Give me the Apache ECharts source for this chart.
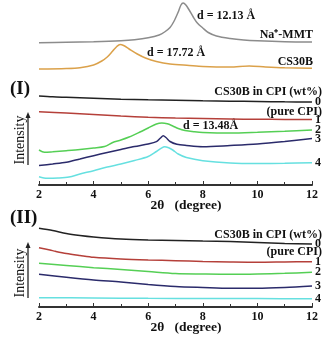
<!DOCTYPE html>
<html><head><meta charset="utf-8">
<script src="https://cdn.jsdelivr.net/npm/echarts@6/dist/echarts.min.js"></script>
<style>html,body{margin:0;padding:0;background:#fff}#c{width:328px;height:338px}</style>
</head><body><div id="c"></div>
<script>
// ---- data (2θ in degrees, intensity in arbitrary units) ----
var xTicks = [2, 4, 6, 8, 10, 12];
// top references
var mmtX = [2.0,3,4,5,5.5,6,6.4,6.6,6.8,6.95,7.1,7.2,7.28,7.38,7.5,7.65,7.8,8.0,8.2,8.5,9,9.5,10,11,12];
var mmtY = [142.3,142.7,143.3,144.3,145.3,147.2,150,153,157.5,164,173,180,182,180,175,168,162,157,152.5,149,146.5,145,144.2,143.3,143];
var cs30bX = [2.0,3,3.5,4.0,4.3,4.5,4.7,4.85,4.97,5.1,5.3,5.6,5.9,6.3,6.8,7.5,8.0,9,9.7,10.3,11,12];
var cs30bY = [116,116.5,117.3,120,124,128,134,138.5,140.5,139.5,136,131,127,123.5,121,119.5,118.5,118,119,118,117.2,116.7];
// panel (I)
var i0X = [2,2.5,3,4,5,6,7,8,9,10,11,12];
var i0Y = [89,88.2,87.7,86.7,85.8,85.2,84.7,84.2,83.8,83.5,83.2,83];
var i1X = [2,3,4,5,6,7,8,9,10,11,12];
var i1Y = [73.3,72,70.5,69,67.8,67,66.5,66,65.7,65.6,65.5];
var i2X = [2.0,2.2,2.5,3,3.5,4,4.4,4.7,5,5.3,5.7,6.0,6.3,6.5,6.7,6.9,7.1,7.35,7.7,8,9,10,11,12];
var i2Y = [35,32.7,33.2,34.3,35.5,37,38.5,42.5,45,48,53,57,61,62,61.2,59,56.5,54.5,53.2,52.5,52,52.7,53.7,55];
var i3X = [2.0,2.5,3,3.5,4,4.5,5,5.5,6,6.3,6.45,6.55,6.65,6.8,7.05,7.4,8,9,10,11,12];
var i3Y = [19.5,21,22.7,26,29.3,32.5,35.5,38.5,41,43.3,47,49.3,47.5,43.5,40.7,39.5,38.3,39.5,41,43.5,46.5];
var i4X = [2.0,2.3,2.7,3.1,3.5,4.0,4.5,5,5.5,6,6.3,6.5,6.6,6.75,6.9,7.1,7.4,8,9,10,11,12];
var i4Y = [8.3,6.7,7,8,11,14.3,18,21,24.5,28.5,33.5,37.2,38.3,37.2,35,31,27.5,24.3,22,21.5,21.7,22.3];
// panel (II)
var ii0X = [2,2.5,3,3.5,4,5,6,7,8,9,10,11,12];
var ii0Y = [78.7,76.5,73.5,71.5,70,68,67,66.5,66,65.5,64.5,63.5,63];
var ii1X = [2,2.4,2.6,3,3.5,4,5,6,7,8,9,10,11,12];
var ii1Y = [59.3,57,55.7,53.5,51.5,49.7,48,47,46.3,45.5,45,44.7,45,45.3];
var ii2X = [2,3,4,5,6,7,8,9,10,11,12];
var ii2Y = [43.7,41.5,39.3,37.5,35.5,33.5,33,32.7,33,33.7,34.7];
var ii3X = [2,3,4,5,6,7,8,9,10,11,12];
var ii3Y = [32.7,29.7,27,25,22.5,20.5,19.5,18.7,18.7,19.5,21];
var ii4X = [2,4,6,8,10,12];
var ii4Y = [9.3,9,8.7,8.5,8.4,8.3];
var seriesLabels = ['0', '1', '2', '3', '4'];

function pairs(xs, ys) { return xs.map(function (x, i) { return [x, ys[i]]; }); }
var F = 'Liberation Serif';
var colors = { mmt: '#8c8c8c', cs: '#dba14a', c0: '#222222', c1: '#b5403a', c2: '#55cf55', c3: '#2b2b6b', c4: '#66e0e0' };

function line(name, xi, yi, xs, ys, color, lbl) {
  var s = {
    name: name, type: 'line', xAxisIndex: xi, yAxisIndex: yi,
    data: pairs(xs, ys), showSymbol: false, smooth: 0.3,
    lineStyle: { color: color, width: 1.5 }, animation: false
  };
  if (lbl != null) {
    s.endLabel = { show: true, formatter: lbl, distance: 3, fontFamily: F, fontWeight: 'bold', fontSize: 12, color: '#111' };
  }
  return s;
}

function xAx(gi) {
  return {
    type: 'value', gridIndex: gi, min: xTicks[0], max: xTicks[xTicks.length - 1], interval: 2,
    axisLine: { show: true, onZero: false, lineStyle: { color: '#333', width: 2 } },
    axisTick: { show: true, inside: true, length: 4, lineStyle: { color: '#333' } },
    minorTick: { show: true, splitNumber: 2, length: 3, lineStyle: { color: '#333' } },
    axisLabel: { margin: 4, fontFamily: F, fontWeight: 'bold', fontSize: 12, color: '#111' },
    splitLine: { show: false }
  };
}
function yAx(gi, max) {
  return { type: 'value', gridIndex: gi, min: 0, max: max, show: false, splitLine: { show: false } };
}

function txt(x, y, t, opts) {
  opts = opts || {};
  return {
    type: 'text', x: x, y: y, rotation: opts.rot || 0,
    style: {
      text: t, fill: '#111', font: (opts.weight || 'bold') + ' ' + (opts.size || 12) + 'px "' + F + '"',
      align: opts.align || 'left', verticalAlign: 'middle'
    }
  };
}
function arrow(x, y1, y2) {
  return [
    { type: 'line', shape: { x1: x, y1: y2, x2: x, y2: y1 + 4 }, style: { stroke: '#222', lineWidth: 1.3 } },
    { type: 'polygon', shape: { points: [[x, y1], [x - 2.5, y1 + 6], [x + 2.5, y1 + 6]] }, style: { fill: '#222' } }
  ];
}

var chart = echarts.init(document.getElementById('c'), null, { renderer: 'canvas' });
chart.setOption({
  backgroundColor: '#fff',
  animation: false,
  grid: [
    { left: 39, right: 16, top: 0, height: 185 },
    { left: 39, right: 16, top: 220, height: 87 }
  ],
  xAxis: [xAx(0), xAx(1)],
  yAxis: [yAx(0, 185), yAx(1, 87)],
  series: [
    line('Na+-MMT', 0, 0, mmtX, mmtY, colors.mmt),
    line('CS30B', 0, 0, cs30bX, cs30bY, colors.cs),
    line('I-0', 0, 0, i0X, i0Y, colors.c0, seriesLabels[0]),
    line('I-1', 0, 0, i1X, i1Y, colors.c1, seriesLabels[1]),
    line('I-2', 0, 0, i2X, i2Y, colors.c2, seriesLabels[2]),
    line('I-3', 0, 0, i3X, i3Y, colors.c3, seriesLabels[3]),
    line('I-4', 0, 0, i4X, i4Y, colors.c4, seriesLabels[4]),
    line('II-0', 1, 1, ii0X, ii0Y, colors.c0, seriesLabels[0]),
    line('II-1', 1, 1, ii1X, ii1Y, colors.c1, seriesLabels[1]),
    line('II-2', 1, 1, ii2X, ii2Y, colors.c2, seriesLabels[2]),
    line('II-3', 1, 1, ii3X, ii3Y, colors.c3, seriesLabels[3]),
    line('II-4', 1, 1, ii4X, ii4Y, colors.c4, seriesLabels[4])
  ],
  graphic: [
    txt(197, 16, 'd = 12.13 Å'),
    txt(313, 35, 'Na⁺-MMT', { align: 'right' }),
    txt(147, 53, 'd = 17.72 Å'),
    txt(313, 62, 'CS30B', { align: 'right' }),
    txt(10, 89, '(I)', { size: 19 }),
    txt(322, 92, 'CS30B in CPI (wt%)', { align: 'right' }),
    txt(322, 112, '(pure CPI)', { align: 'right' }),
    txt(183, 126, 'd = 13.48Å'),
    txt(20, 140, 'Intensity', { rot: Math.PI / 2, align: 'center', weight: 'normal', size: 14 }),
    txt(186, 206, '2θ   (degree)', { align: 'center', size: 13.5 }),
    txt(10, 218, '(II)', { size: 19 }),
    txt(322, 235, 'CS30B in CPI (wt%)', { align: 'right' }),
    txt(322, 252, '(pure CPI)', { align: 'right' }),
    txt(20, 273, 'Intensity', { rot: Math.PI / 2, align: 'center', weight: 'normal', size: 14 }),
    txt(186, 328, '2θ   (degree)', { align: 'center', size: 13.5 })
  ].concat(arrow(28, 112, 165)).concat(arrow(28, 242, 298))
});
</script></body></html>
